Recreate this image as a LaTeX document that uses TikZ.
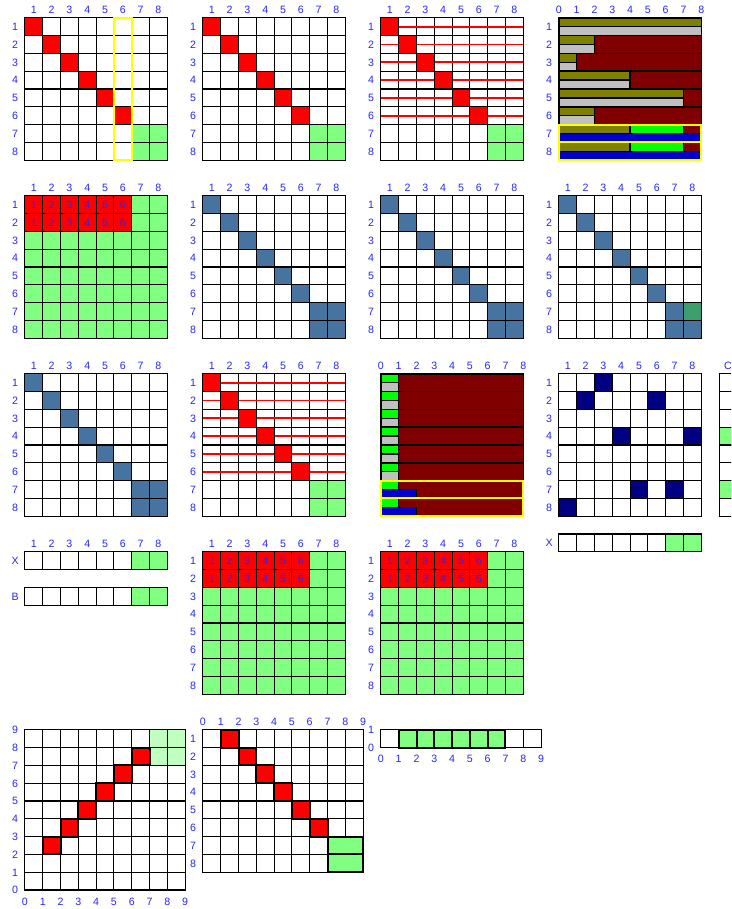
\documentclass[tikz,border=0pt]{standalone}
\usepackage{fontspec}
\setmainfont{Liberation Sans}
\usepackage{tikz}

\definecolor{labBlue}{RGB}{40,40,235}
\definecolor{cellRed}{RGB}{255,0,0}
\definecolor{cellGreen}{RGB}{128,255,128}
\definecolor{paleGreen}{RGB}{192,255,192}
\definecolor{steelCell}{RGB}{70,115,160}
\definecolor{seaCell}{RGB}{60,160,110}
\definecolor{navyCell}{RGB}{0,0,128}
\definecolor{oliveBar}{RGB}{128,128,0}
\definecolor{silverBar}{RGB}{192,192,192}
\definecolor{maroonBar}{RGB}{128,0,0}
\definecolor{limeBar}{RGB}{0,255,0}
\definecolor{blueBar}{RGB}{0,0,200}
\definecolor{markYellow}{RGB}{255,255,0}

\tikzset{
  cell/.style={draw=black, line width=0.9pt},
  boldcell/.style={draw=black, line width=1.6pt},
  bar/.style={draw=black, line width=1.2pt},
  hilite/.style={draw=markYellow, line width=1.6pt},
  scanline/.style={draw=cellRed, line width=1.4pt},
  lab/.style={text=labBlue, font=\fontsize{8.5}{9}\selectfont, inner sep=0pt,
              text height=6.2pt, text depth=0pt},
}

% empty board: x, y, cols, rows
\newcommand{\board}[4]{\foreach \i in {1,...,#3}{\foreach \j in {1,...,#4}{
  \draw[cell, fill=white] ({#1+\i-1},{#2+\j-1}) rectangle ++(1,1);}}}
% one cell: x, y, col, row, colour
\newcommand{\paintcell}[5]{\draw[cell, fill=#5] ({#1+#3-1},{#2+#4-1}) rectangle ++(1,1);}
% axis numbers
\newcommand{\toplabels}[4]{\foreach \i in {1,...,#4}{
  \node[lab] (#1t\i) at ({#2+\i-0.5},{#3-0.45}) {\i};}}
\newcommand{\sidelabels}[4]{\foreach \j in {1,...,#4}{
  \node[lab] (#1s\j) at ({#2-0.55},{#3+\j-0.5}) {\j};}}
\newcommand{\squareboard}[3]{\board{#2}{#3}{8}{8}\toplabels{#1}{#2}{#3}{8}\sidelabels{#1}{#2}{#3}{8}}
% fillings
\newcommand{\reddiag}[2]{\foreach \k in {1,...,6}{\paintcell{#1}{#2}{\k}{\k}{cellRed}}
  \foreach \k/\l in {7/7,7/8,8/7,8/8}{\paintcell{#1}{#2}{\k}{\l}{cellGreen}}}
\newcommand{\steeldiag}[2]{\foreach \k in {1,...,6}{\paintcell{#1}{#2}{\k}{\k}{steelCell}}
  \foreach \k/\l in {7/7,7/8,8/7,8/8}{\paintcell{#1}{#2}{\k}{\l}{steelCell}}}
\newcommand{\scanlines}[2]{\foreach \k in {1,...,6}{
  \draw[scanline] (#1,{#2+\k-0.5}) -- ({#1+8},{#2+\k-0.5});}}
\newcommand{\redblock}[3]{\foreach \i in {1,...,8}{\foreach \j in {1,...,8}{\paintcell{#2}{#3}{\i}{\j}{cellGreen}}}
  \foreach \i in {1,...,6}{\foreach \j in {1,2}{\paintcell{#2}{#3}{\i}{\j}{cellRed}
    \node[lab] (#1n\j\i) at ({#2+\i-0.5},{#3+\j-0.5}) {\i};}}}

\begin{document}
\begin{tikzpicture}[x=0.5cm, y=-0.5cm]
\useasboundingbox (0,0) rectangle (41.07,51.07);
\clip (0,0) rectangle (41.07,51.07);

% --- row 1
\squareboard{aa}{1.4}{1}
\reddiag{1.4}{1}
\draw[hilite] (6.4,1) rectangle (7.4,9);

\squareboard{ab}{11.4}{1}
\reddiag{11.4}{1}

\squareboard{ac}{21.4}{1}
\scanlines{21.4}{1}
\reddiag{21.4}{1}

% bars
\draw[bar, fill=black] (31.4,1) rectangle (39.4,9);
\foreach \r/\a in {1/8,2/2,3/1,4/4,5/7,6/2}{
  \draw[bar, fill=maroonBar] ({31.4+\a},\r) rectangle (39.4,{\r+1});
  \draw[bar, fill=oliveBar] (31.4,\r) rectangle ({31.4+\a},{\r+0.5});
  \draw[bar, fill=silverBar] (31.4,{\r+0.5}) rectangle ({31.4+\a},{\r+1});
}
\foreach \r in {7,8}{
  \draw[bar, fill=oliveBar] (31.4,\r) rectangle (35.4,{\r+0.5});
  \draw[bar, fill=limeBar] (35.4,\r) rectangle (38.4,{\r+0.5});
  \draw[bar, fill=maroonBar] (38.4,\r) rectangle (39.4,{\r+0.5});
  \draw[bar, fill=blueBar] (31.4,{\r+0.5}) rectangle (39.4,{\r+1});
  \draw[hilite] (31.4,\r) rectangle (39.4,{\r+1});
}
\foreach \v in {0,...,8}{\node[lab] (adt\v) at ({31.4+\v},0.55) {\v};}
\sidelabels{ad}{31.4}{1}{8}

% --- row 2
\toplabels{ba}{1.4}{11}{8}
\sidelabels{ba}{1.4}{11}{8}
\redblock{ba}{1.4}{11}

\squareboard{bb}{11.4}{11}
\steeldiag{11.4}{11}

\squareboard{bc}{21.4}{11}
\steeldiag{21.4}{11}

\squareboard{bd}{31.4}{11}
\steeldiag{31.4}{11}
\paintcell{31.4}{11}{8}{7}{seaCell}

% --- row 3
\squareboard{ca}{1.4}{21}
\steeldiag{1.4}{21}

\squareboard{cb}{11.4}{21}
\scanlines{11.4}{21}
\reddiag{11.4}{21}

% bars
\draw[bar, fill=black] (21.4,21) rectangle (29.4,29);
\foreach \r in {1,...,6}{
  \draw[bar, fill=maroonBar] (22.4,{20+\r}) rectangle (29.4,{21+\r});
  \draw[bar, fill=limeBar] (21.4,{20+\r}) rectangle (22.4,{20.5+\r});
  \draw[bar, fill=silverBar] (21.4,{20.5+\r}) rectangle (22.4,{21+\r});
}
\foreach \r in {7,8}{
  \draw[bar, fill=maroonBar] (22.4,{20+\r}) rectangle (29.4,{21+\r});
  \draw[bar, fill=limeBar] (21.4,{20+\r}) rectangle (22.4,{20.5+\r});
  \draw[bar, fill=blueBar] (21.4,{20.5+\r}) rectangle (23.4,{21+\r});
  \draw[hilite] (21.4,{20+\r}) rectangle (29.4,{21+\r});
}
\foreach \v in {0,...,8}{\node[lab] (cct\v) at ({21.4+\v},20.55) {\v};}

\squareboard{cd}{31.4}{21}
\foreach \r/\c in {1/3,2/2,2/6,4/4,4/8,7/5,7/7,8/1}{\paintcell{31.4}{21}{\c}{\r}{navyCell}}

\board{40.4}{21}{1}{8}
\paintcell{40.4}{21}{1}{4}{cellGreen}
\paintcell{40.4}{21}{1}{7}{cellGreen}
\node[lab] (ceC) at (40.9,20.55) {C};

\board{31.4}{30}{8}{1}
\paintcell{31.4}{30}{7}{1}{cellGreen}
\paintcell{31.4}{30}{8}{1}{cellGreen}
\node[lab] (cdX) at (30.85,30.5) {X};

% --- row 4
\board{1.4}{31}{8}{1}
\paintcell{1.4}{31}{7}{1}{cellGreen}
\paintcell{1.4}{31}{8}{1}{cellGreen}
\toplabels{da}{1.4}{31}{8}
\node[lab] (daX) at (0.85,31.5) {X};

\board{1.4}{33}{8}{1}
\paintcell{1.4}{33}{7}{1}{cellGreen}
\paintcell{1.4}{33}{8}{1}{cellGreen}
\node[lab] (daB) at (0.85,33.5) {B};

\toplabels{db}{11.4}{31}{8}
\sidelabels{db}{11.4}{31}{8}
\redblock{db}{11.4}{31}

\toplabels{dc}{21.4}{31}{8}
\sidelabels{dc}{21.4}{31}{8}
\redblock{dc}{21.4}{31}

% --- row 5
\board{1.4}{41}{9}{9}
\foreach \c/\r in {8/1,9/1,8/2,9/2}{\paintcell{1.4}{41}{\c}{\r}{paleGreen}}
\foreach \k in {1,...,6}{\draw[boldcell, fill=cellRed] ({1.4+\k},{48-\k}) rectangle ++(1,1);}
\foreach \v in {0,...,9}{
  \node[lab] (eav\v) at (0.85,{50-\v}) {\v};
  \node[lab] (eah\v) at ({1.4+\v},50.65) {\v};
}

\board{11.4}{41}{9}{8}
\foreach \k in {1,...,6}{\draw[boldcell, fill=cellRed] ({11.4+\k},{40+\k}) rectangle ++(1,1);}
\foreach \r in {7,8}{\draw[boldcell, fill=cellGreen] (18.4,{40+\r}) rectangle (20.4,{41+\r});}
\foreach \v in {0,...,9}{\node[lab] (ebt\v) at ({11.4+\v},40.55) {\v};}
\sidelabels{eb}{11.4}{41}{8}

\board{21.4}{41}{9}{1}
\foreach \k in {2,...,7}{\draw[boldcell, fill=cellGreen] ({21.4+\k-1},41) rectangle ++(1,1);}
\node[lab] (ec1) at (20.85,41) {1};
\node[lab] (ec0) at (20.85,42) {0};
\foreach \v in {0,...,9}{\node[lab] (ech\v) at ({21.4+\v},42.6) {\v};}
\end{tikzpicture}
\end{document}
